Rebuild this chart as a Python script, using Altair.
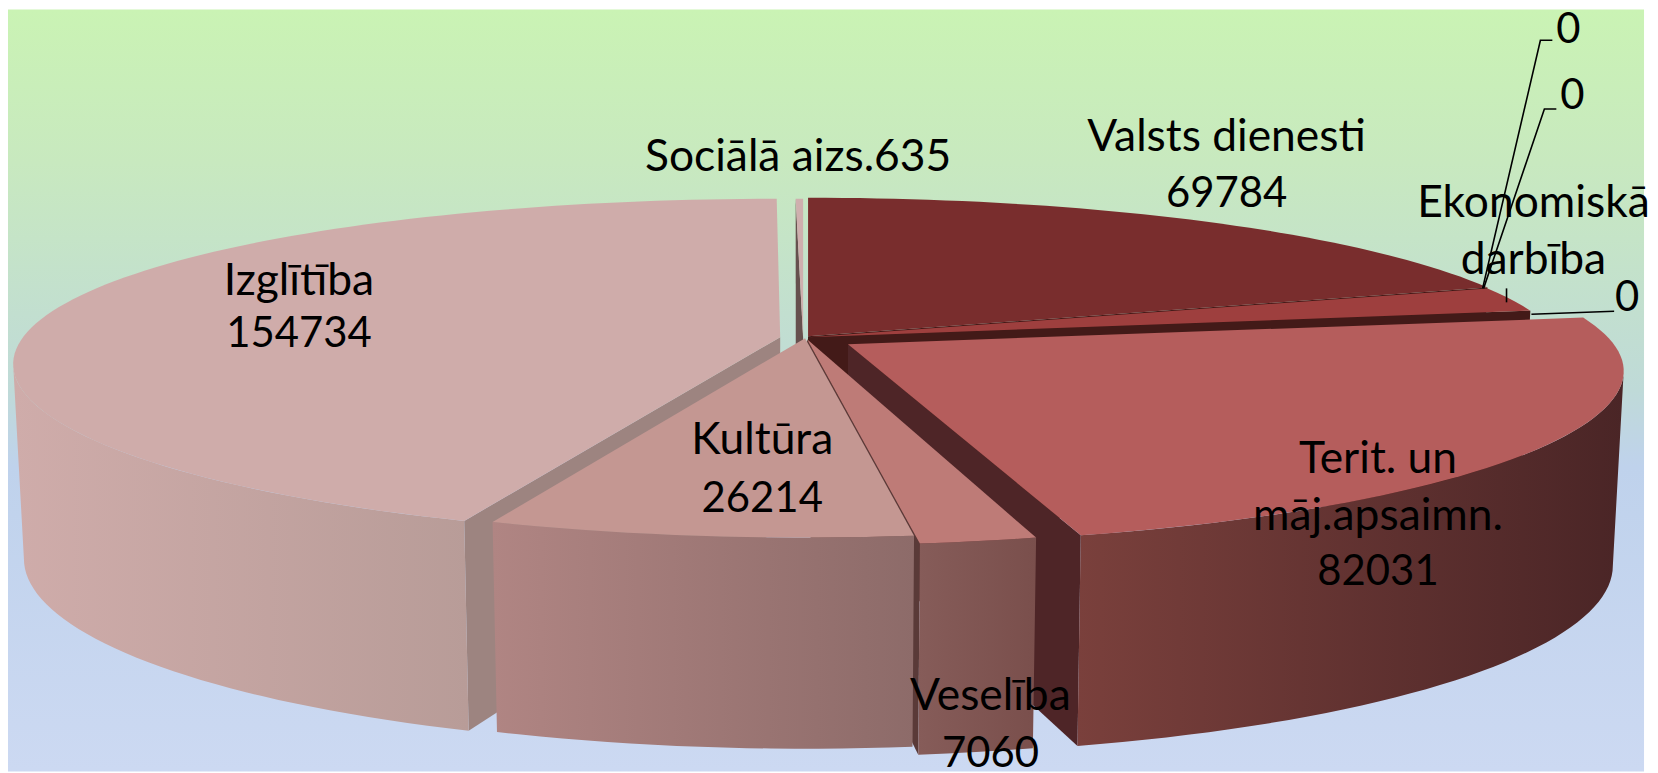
import math
import altair as alt
import pandas as pd

# ---- chart values ----
categories = ["Valsts dienesti", "Ekonomiskā darbība", "Terit. un māj.apsaimn.", "Veselība", "Kultūra", "Izglītība", "Sociālā aizs."]
values = [69784, 8000, 82031, 7060, 26214, 154734, 635]

label_lines = [
    ["Valsts dienesti", "69784"],
    ["Ekonomiskā", "darbība"],
    ["Terit. un", "māj.apsaimn.", "82031"],
    ["Veselība", "7060"],
    ["Kultūra", "26214"],
    ["Izglītība", "154734"],
    ["Sociālā aizs.635"],
]
zero_labels = ["0", "0", "0"]

# ---- geometry of the drawing ----
W, H, M = 1658, 773, 8
PLOT_W, PLOT_H = W - 2 * M, H - M
START = 0.0
RX, RY, PX, PY = 755.0, 164.0, 0.16, 0.18
EXTREME = math.degrees(math.acos(-PX))
apex = {
    "Valsts dienesti": (811, 336),
    "Ekonomiskā darbība": (811, 337),
    "Terit. un māj.apsaimn.": (851, 344),
    "Veselība": (810, 339),
    "Kultūra": (808, 338),
    "Izglītība": (783, 337),
    "Sociālā aizs.": (806, 337),
}
radius_factor = {"Veselība": 1.035}
x_factor = {"Terit. un māj.apsaimn.": 1.018, "Izglītība": 1.0065}
# small perspective corrections of the drawn edges, degrees (start, end)
nudge = {"Valsts dienesti": (0, -0.5), "Ekonomiskā darbība": (-0.5, 0), "Veselība": (0.5, 0.6),
         "Kultūra": (0.6, 1.2), "Izglītība": (1.3, 0.35)}
label_pos = [(1231, [137, 193]), (1539, [203, 261]), (1383, [460, 518, 573]), (994, [698, 755]),
             (765, [441, 499]), (300, [282, 334]), (801, [157])]
zero_pos = [(1574, 29), (1578, 95), (1633, 298)]
leaders = [[(1558, 39), (1546, 39), (1488, 288)], [(1562, 108), (1550, 108), (1489, 288)],
           [(1620, 311), (1537, 314)], [(1512, 288), (1512, 302)]]

colours = {
    "Valsts dienesti": dict(top="#792D2D", wall="#431A18", side=["#6A2A2A", "#5A2222"]),
    "Ekonomiskā darbība": dict(top="#9E3F3E", wall="#431A18", side=["#6A2A2A", "#5A2222"]),
    "Terit. un māj.apsaimn.": dict(top="#B55D5C", wall="#4E2527", side=["#7A403C", "#4A2526"]),
    "Veselība": dict(top="#BE7B77", wall="#5A3A38", side=["#865C59", "#7A4F4C"]),
    "Kultūra": dict(top="#C49792", wall="#5A3A38", side=["#B08583", "#8D6B69"]),
    "Izglītība": dict(top="#CFACAA", wall="#9D8480", side=["#CFACAA", "#B89C98"]),
    "Sociālā aizs.": dict(top="#CFAFAE", wall="#66504E", side=["#CFAFAE", "#CFAFAE"]),
}

x_scale = alt.Scale(domain=[M, M + PLOT_W], range=[0, PLOT_W], nice=False, zero=False)
y_scale = alt.Scale(domain=[M, M + PLOT_H], range=[0, PLOT_H], nice=False, zero=False)


def project(name, deg):
    a = apex[name]
    f = radius_factor.get(name, 1.0)
    fx = f * x_factor.get(name, 1.0)
    t = math.radians(deg)
    c, s = math.cos(t), math.sin(t)
    return (a[0] + fx * RX * s / (1 + PX * c), a[1] - f * RY * c / (1 + PY * c))


def lower(a, p, deg):
    d = 192 - 20 * math.cos(math.radians(deg))
    return (a[0] + (p[0] - a[0]) * 0.986, p[1] + d)


def poly(points, fill):
    df = pd.DataFrame([{"x": p[0], "y": p[1], "i": i} for i, p in enumerate(points)])
    return alt.Chart(df).mark_line(fill=fill, strokeOpacity=0, strokeWidth=0).encode(
        x=alt.X("x:Q", scale=x_scale, axis=None),
        y=alt.Y("y:Q", scale=y_scale, axis=None),
        order=alt.Order("i:Q"),
    )


total = sum(values)
spans = {}
cur = START
for name, v in zip(categories[:-1], values[:-1]):
    n0, n1 = nudge.get(name, (0, 0))
    spans[name] = (cur + n0, cur + v / total * 360 + n1)
    cur += v / total * 360
spans["Sociālā aizs."] = (-values[-1] / total * 360, 0.0)


def top_face(name):
    t0, t1 = spans[name]
    n = max(2, int(abs(t1 - t0) / 1.5))
    return poly([apex[name]] + [project(name, t0 + (t1 - t0) * k / n) for k in range(n + 1)], colours[name]["top"])


def side_face(name):
    a, (t0, t1) = apex[name], spans[name]
    lo, hi = max(t0, EXTREME), min(t1, 360 - EXTREME)
    n = max(2, int((hi - lo) / 1.5))
    degs = [lo + (hi - lo) * k / n for k in range(n + 1)]
    up = [project(name, d) for d in degs]
    dn = [lower(a, p, d) for p, d in zip(up, degs)]
    c = colours[name]["side"]
    grad = alt.Gradient(gradient="linear", x1=0, y1=0, x2=1, y2=0,
                        stops=[alt.GradientStop(offset=0, color=c[0]), alt.GradientStop(offset=1, color=c[1])])
    return poly(up + dn[::-1], grad)


def wall(name, deg):
    a = apex[name]
    p = project(name, deg)
    q = lower(a, p, deg)
    return poly([a, p, q, (a[0], a[1] + 192)], colours[name]["wall"])


bg_stops = [("#CAF3B4", 0), ("#C8E9BF", 0.2), ("#BFDAD8", 0.5), ("#BFD2EC", 0.6), ("#CCD9F2", 1)]
background = alt.Chart(pd.DataFrame({"x": [M], "x2": [M + PLOT_W], "y": [M], "y2": [M + PLOT_H]})).mark_rect(
    fill=alt.Gradient(gradient="linear", x1=0, y1=0, x2=0, y2=1,
                      stops=[alt.GradientStop(color=c, offset=o) for c, o in bg_stops])
).encode(x=alt.X("x:Q", scale=x_scale, axis=None), x2="x2:Q",
         y=alt.Y("y:Q", scale=y_scale, axis=None), y2="y2:Q")

V, E, T, S, K, I, O = categories
layers = [background]
layers += [wall(O, spans[O][0]), top_face(O)]
layers += [wall(V, spans[V][1]), top_face(V)]
layers += [wall(E, spans[E][1]), top_face(E)]
layers += [wall(I, spans[I][0]), side_face(I), top_face(I)]
layers += [wall(T, spans[T][1]), side_face(T), top_face(T)]
layers += [wall(S, spans[S][1])]
layers += [side_face(K), top_face(K)]
layers += [side_face(S), top_face(S)]

for pts in leaders:
    df = pd.DataFrame([{"x": p[0], "y": p[1], "i": i} for i, p in enumerate(pts)])
    layers.append(alt.Chart(df).mark_line(color="#000000", strokeWidth=1.6).encode(
        x=alt.X("x:Q", scale=x_scale, axis=None), y=alt.Y("y:Q", scale=y_scale, axis=None), order="i:Q"))

rows = []
for lines, (x, ys) in zip(label_lines, label_pos):
    for line, y in zip(lines, ys):
        rows.append({"x": x, "y": y, "t": line, "s": 42 if line.isdigit() else 44.5})
for z, (x, y) in zip(zero_labels, zero_pos):
    rows.append({"x": x, "y": y, "t": z, "s": 42})
layers.append(alt.Chart(pd.DataFrame(rows)).mark_text(
    font="Lato", color="#000000", baseline="middle", align="center"
).encode(x=alt.X("x:Q", scale=x_scale, axis=None), y=alt.Y("y:Q", scale=y_scale, axis=None),
         text="t:N", size=alt.Size("s:Q", scale=None, legend=None)))

chart = alt.layer(*layers).resolve_scale(x="shared", y="shared").properties(
    width=PLOT_W, height=PLOT_H, padding=0, background="#FFFFFF"
).configure_view(stroke=None)

chart.save("out.html", embed_options={"renderer": "svg", "actions": False})
